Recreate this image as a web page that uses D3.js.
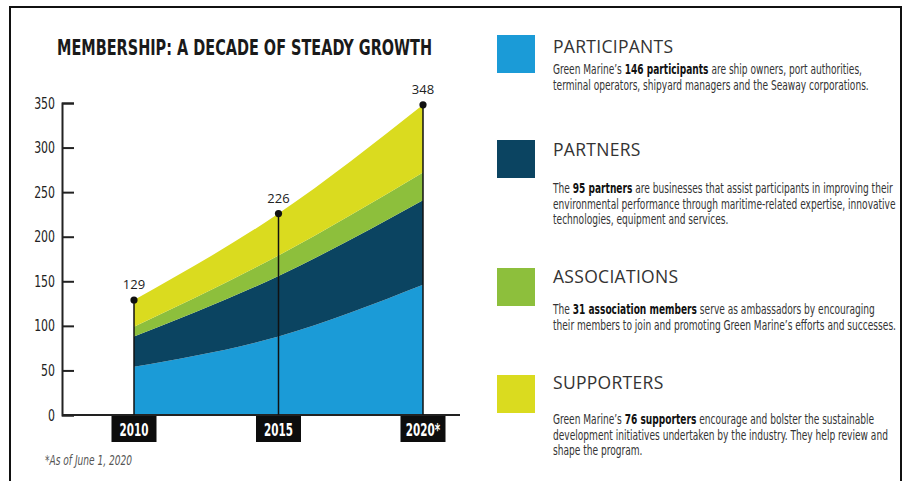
<!DOCTYPE html>
<html>
<head>
<meta charset="utf-8">
<script src="https://cdn.jsdelivr.net/npm/d3@7"></script>
<style>
	body { margin: 0; background: #fff; }
	svg { display: block; }
	.axis text { font-family: 'Liberation Sans Narrow', 'DejaVu Sans Condensed', sans-serif; font-size: 16px; fill: #222; }
	.axis path, .axis line { stroke: #222; stroke-width: 2; }
	.year-label { font-family: 'DejaVu Sans Condensed', sans-serif; font-weight: bold; font-size: 17px; fill: #fff; }
	.value-label { font-family: 'Open Sans', sans-serif; font-size: 13px; fill: #222; }
	.legend-title { font-family: 'Open Sans', sans-serif; font-size: 17.5px; fill: #333; letter-spacing: 0.3px; }
	.legend-desc { font-family: 'DejaVu Sans Condensed', sans-serif; font-size: 14px; fill: #333; }
	.legend-desc .b { font-weight: bold; fill: #111; }
	.footnote { font-family: 'DejaVu Sans Condensed', sans-serif; font-style: italic; font-size: 14px; fill: #555; }
</style>
</head>
<body>
<svg id="chart" width="905" height="481"></svg>
<script>
(function() {

	// data
	var years = [2010, 2015, 2020]
	var yearLabels = ['2010', '2015', '2020*']
	var participants = [54, 88, 146]
	var partners = [34, 68, 95]
	var associations = [11, 23, 31]
	var supporters = [30, 47, 76]
	var totals = [129, 226, 348]
	var yTicks = [0, 50, 100, 150, 200, 250, 300, 350]

	var seriesKeys = ['participants', 'partners', 'associations', 'supporters']
	var seriesNames = ['PARTICIPANTS', 'PARTNERS', 'ASSOCIATIONS', 'SUPPORTERS']
	var seriesColors = ['#1b9bd7', '#0b4461', '#8dbf3c', '#dadb1f']

	var descParticipants = [
		"Green Marine\u2019s **146 participants** are ship owners, port authorities,",
		"terminal operators, shipyard managers and the Seaway corporations."
	]
	var descPartners = [
		"The **95 partners** are businesses that assist participants in improving their",
		"environmental performance through maritime-related expertise, innovative",
		"technologies, equipment and services."
	]
	var descAssociations = [
		"The **31 association members** serve as ambassadors by encouraging",
		"their members to join and promoting Green Marine\u2019s efforts and successes."
	]
	var descSupporters = [
		"Green Marine\u2019s **76 supporters** encourage and bolster the sustainable",
		"development initiatives undertaken by the industry. They help review and",
		"shape the program."
	]
	var descriptions = [descParticipants, descPartners, descAssociations, descSupporters]

	var titleText = 'MEMBERSHIP: A DECADE OF STEADY GROWTH'
	var footnoteText = '*As of June 1, 2020'

	// layout
	var svg = d3.select('#chart')
	var margin = { top: 103, left: 62 }
	var chartWidth = 398
	var chartHeight = 312
	var tickSqueeze = 0.76
	var yearSqueeze = 0.68
	var legend = { x: 497, textX: 553, box: 38, boxTop: [35, 140, 268, 375], titleY: [53, 156, 283, 389], lineY: [74, 193, 314, 424], lineGap: 15.5 }

	var rows = years.map(function(y, i) {
		return {
			year: y,
			participants: participants[i],
			partners: partners[i],
			associations: associations[i],
			supporters: supporters[i],
			total: totals[i]
		}
	})

	var stackedData = d3.stack().keys(seriesKeys)(rows)

	var scales = {}
	scales.x = d3.scaleLinear().domain([2010, 2020]).range([72, 361])
	scales.y = d3.scaleLinear().domain([0, 350]).range([chartHeight, 0])
	scales.color = d3.scaleOrdinal().domain(seriesKeys).range(seriesColors)

	// frame
	svg.append('rect')
		.attr('x', 10).attr('y', 7)
		.attr('width', 891).attr('height', 490)
		.attr('fill', 'none')
		.attr('stroke', '#111')
		.attr('stroke-width', 2)

	// title
	svg.append('text')
		.attr('x', 57).attr('y', 55)
		.attr('textLength', 375)
		.attr('lengthAdjust', 'spacingAndGlyphs')
		.style('font-family', "'DejaVu Sans Condensed', 'DejaVu Sans', sans-serif")
		.style('font-weight', 'bold')
		.style('font-size', '21px')
		.style('fill', '#1a1a1a')
		.text(titleText)

	var g = svg.append('g')
		.attr('transform', 'translate(' + margin.left + ',' + margin.top + ')')

	var area = d3.area()
		.curve(d3.curveMonotoneX)
		.x(function(d) { return scales.x(d.data.year) })
		.y0(function(d) { return scales.y(d[0]) })
		.y1(function(d) { return scales.y(d[1]) })

	g.selectAll('.layer')
		.data(stackedData)
		.enter()
		.append('path')
		.attr('class', 'layer')
		.attr('fill', function(d) { return scales.color(d.key) })
		.attr('d', area)

	// y axis
	var axisY = d3.axisLeft(scales.y)
		.tickValues(yTicks)
		.tickSizeInner(-12)
		.tickSizeOuter(-12)
		.tickPadding(7)

	var gy = g.append('g')
		.attr('class', 'axis axis--y')
		.call(axisY)

	gy.selectAll('.tick text')
		.attr('x', -7 / tickSqueeze)
		.attr('transform', 'scale(' + tickSqueeze + ',1)')

	// baseline
	g.append('line')
		.attr('x1', 0).attr('x2', chartWidth)
		.attr('y1', chartHeight).attr('y2', chartHeight)
		.attr('stroke', '#222')
		.attr('stroke-width', 2)

	// year markers: stems, dots, totals
	var marks = g.selectAll('.mark')
		.data(rows)
		.enter()
		.append('g')
		.attr('class', 'mark')

	marks.append('line')
		.attr('x1', function(d) { return scales.x(d.year) })
		.attr('x2', function(d) { return scales.x(d.year) })
		.attr('y1', function(d) { return scales.y(d.total) })
		.attr('y2', scales.y(0))
		.attr('stroke', '#111')
		.attr('stroke-width', 1.5)

	marks.append('circle')
		.attr('cx', function(d) { return scales.x(d.year) })
		.attr('cy', function(d) { return scales.y(d.total) })
		.attr('r', 3.6)
		.attr('fill', '#111')

	marks.append('text')
		.attr('class', 'value-label')
		.attr('text-anchor', 'middle')
		.attr('x', function(d) { return scales.x(d.year) })
		.attr('y', function(d) { return scales.y(d.total) - 11 })
		.text(function(d) { return d.total })

	// x labels in black boxes
	var xLabels = g.selectAll('.xlab')
		.data(rows)
		.enter()
		.append('g')
		.attr('class', 'xlab')
		.attr('transform', function(d) { return 'translate(' + scales.x(d.year) + ',' + (chartHeight + 1) + ')' })

	xLabels.append('rect')
		.attr('x', -22.5).attr('y', 0)
		.attr('width', 45).attr('height', 26)
		.attr('fill', '#0d0d0d')

	xLabels.append('text')
		.attr('class', 'year-label')
		.attr('text-anchor', 'middle')
		.attr('y', 20)
		.attr('transform', 'scale(' + yearSqueeze + ',1)')
		.text(function(d, i) { return yearLabels[i] })

	// legend
	var descTexts = []
	seriesKeys.forEach(function(key, i) {
		var lg = svg.append('g').attr('class', 'legend-item')

		lg.append('rect')
			.attr('x', legend.x).attr('y', legend.boxTop[i])
			.attr('width', legend.box).attr('height', legend.box)
			.attr('fill', scales.color(key))

		lg.append('text')
			.attr('class', 'legend-title')
			.attr('x', legend.textX).attr('y', legend.titleY[i])
			.text(seriesNames[i])

		descriptions[i].forEach(function(line, j) {
			var t = lg.append('text')
				.attr('class', 'legend-desc')
				.datum({ x: legend.textX, y: legend.lineY[i] + j * legend.lineGap })
			line.split('**').forEach(function(part, k) {
				t.append('tspan')
					.attr('class', k % 2 ? 'b' : null)
					.text(part)
			})
			descTexts.push(t)
		})
	})

	// squeeze the body copy to the condensed width of the original
	var refWidth = descTexts[2].node().getComputedTextLength()
	var squeeze = refWidth > 0 ? 340 / refWidth : 1
	descTexts.forEach(function(t) {
		var d = t.datum()
		t.attr('transform', 'translate(' + d.x + ',' + d.y + ') scale(' + squeeze + ',1)')
	})

	svg.append('text')
		.attr('class', 'footnote')
		.attr('transform', 'translate(45,465) scale(' + squeeze + ',1)')
		.text(footnoteText)

})()
</script>
</body>
</html>
